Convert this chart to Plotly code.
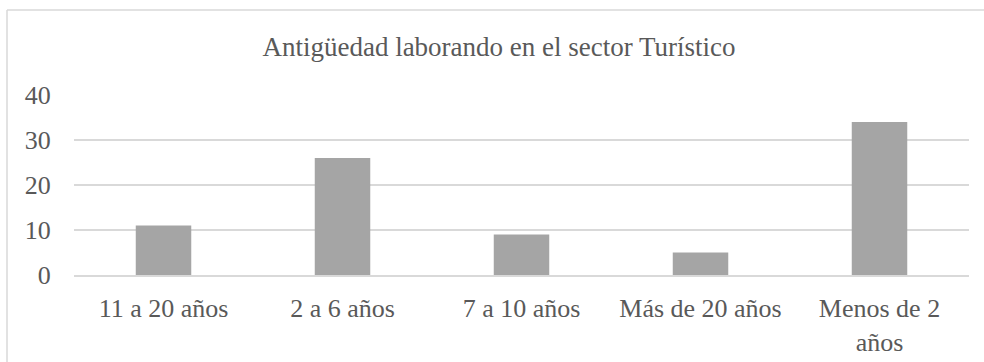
import plotly.graph_objects as go

# Antigüedad laborando en el sector turístico (número de personas)
categorias = ["11 a 20 años", "2 a 6 años", "7 a 10 años", "Más de 20 años", "Menos de 2<br>años"]
personas = [11, 26, 9, 5, 34]
y_ticks = [0, 10, 20, 30, 40]

W, H = 984, 362
M_L, M_R, M_T, M_B = 74, 15, 95, 87

FONT = "Liberation Serif, Times New Roman, serif"
TXT = "#595959"
GRID = "#D9D9D9"

fig = go.Figure(
    go.Bar(
        x=categorias,
        y=personas,
        marker=dict(color="#A5A5A5", line=dict(width=0)),
        width=0.31,
        hoverinfo="x+y",
    )
)

# chart-area border (top and left edges visible)
pw = W - M_L - M_R
ph = H - M_T - M_B
def px_x(p):
    return (p - M_L) / pw
def px_y(p):
    return (H - M_B - p) / ph

border = dict(color=GRID, width=1.5)
fig.add_shape(type="line", xref="paper", yref="paper",
              x0=px_x(7), x1=px_x(W + 5), y0=px_y(10), y1=px_y(10), line=border)
fig.add_shape(type="line", xref="paper", yref="paper",
              x0=px_x(7), x1=px_x(7), y0=px_y(10), y1=px_y(H + 5), line=border)

fig.update_layout(
    width=W,
    height=H,
    margin=dict(l=M_L, r=M_R, t=M_T, b=M_B, autoexpand=False),
    paper_bgcolor="white",
    plot_bgcolor="white",
    showlegend=False,
    font=dict(family=FONT, color=TXT, size=26),
    title=dict(
        text="Antigüedad laborando en el sector Turístico",
        font=dict(family=FONT, color=TXT, size=27),
        x=499 / W,
        xanchor="center",
        xref="container",
        y=1 - 47 / H,
        yanchor="middle",
        yref="container",
    ),
    xaxis=dict(
        automargin=False,
        showgrid=False,
        showline=True,
        linecolor=GRID,
        linewidth=1.5,
        ticks="outside",
        ticklen=9,
        tickcolor="rgba(0,0,0,0)",
        tickfont=dict(size=26),
        fixedrange=True,
    ),
    yaxis=dict(
        automargin=False,
        range=[0, 40],
        tickvals=y_ticks,
        showgrid=True,
        gridcolor=GRID,
        gridwidth=1.5,
        zeroline=False,
        showline=False,
        ticks="outside",
        ticklen=17,
        tickcolor="rgba(0,0,0,0)",
        tickfont=dict(size=26),
        fixedrange=True,
    ),
)

fig.write_html("out.html")
